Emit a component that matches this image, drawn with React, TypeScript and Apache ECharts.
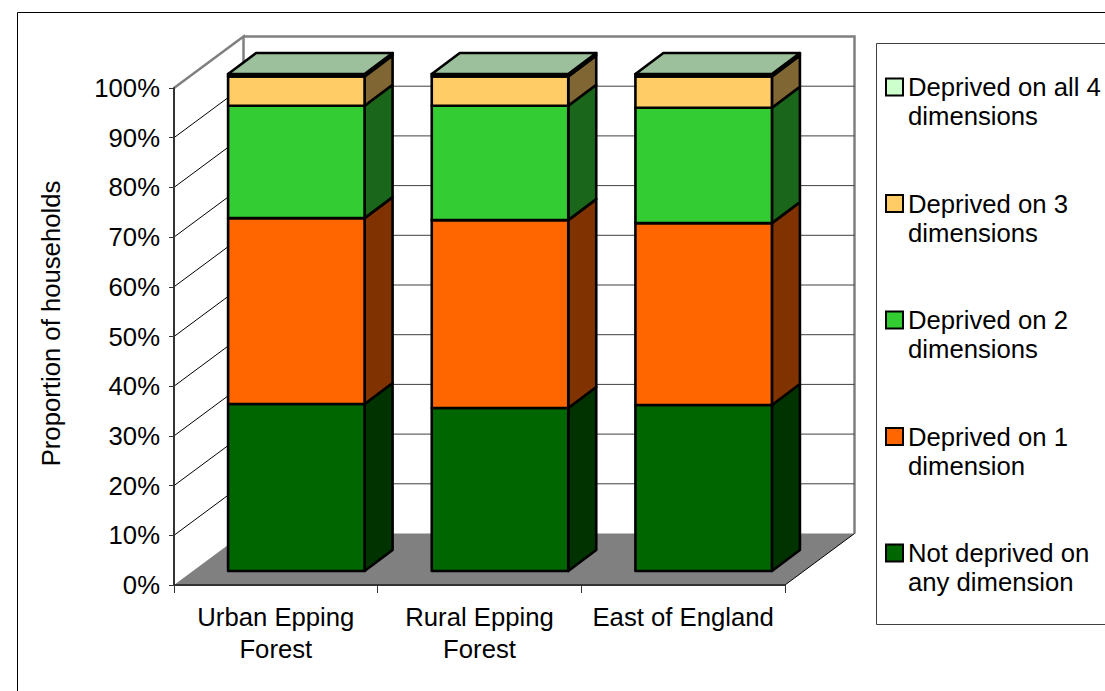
import React, { useEffect, useRef } from "react";
import * as echarts from "echarts";

const categories = ["Urban Epping\nForest", "Rural Epping\nForest", "East of England"];
const notDeprived = [33.6, 32.8, 33.4];
const deprived1 = [37.4, 37.8, 36.6];
const deprived2 = [22.6, 23.0, 23.2];
const deprived3 = [5.9, 5.9, 6.3];
const deprived4 = [0.5, 0.5, 0.5];
const seriesNames = [
  "Not deprived on\nany dimension",
  "Deprived on 1\ndimension",
  "Deprived on 2\ndimensions",
  "Deprived on 3\ndimensions",
  "Deprived on all 4\ndimensions",
];
const seriesValues = [notDeprived, deprived1, deprived2, deprived3, deprived4];
const frontColors = ["#006600", "#FF6600", "#33CC33", "#FFCC66", "#CCFFCC"];
const sideColors = ["#003300", "#803300", "#1A661A", "#806633", "#668066"];
const topColor = "#9CC09C";
const yTicks = [10, 20, 30, 40, 50, 60, 70, 80, 90];

const FONT = "'Liberation Sans', Arial, sans-serif";
const FS = 25.7;
const WALL_DX = 69.5;
const WALL_DY = 51.5;
const BAR_OFF_X = 20.5;
const BAR_OFF_Y = 14;
const BAR_DX = 28;
const BAR_DY = 21;
const BAR_W = 136.5;

function renderSegment(seriesIdx: number) {
  return (_params: any, api: any) => {
    const c = api.value(0);
    const [cx, y0] = api.coord([c, api.value(1)]);
    const [, y1] = api.coord([c, api.value(2)]);
    const l = cx + BAR_OFF_X - BAR_W / 2;
    const r = l + BAR_W;
    const b = y0 - BAR_OFF_Y;
    const t = y1 - BAR_OFF_Y;
    const stroke = { stroke: "#000", lineWidth: 2.6, lineJoin: "round" };
    const children: any[] = [
      {
        type: "polygon",
        shape: { points: [[r, b], [r + BAR_DX, b - BAR_DY], [r + BAR_DX, t - BAR_DY], [r, t]] },
        style: { fill: sideColors[seriesIdx], ...stroke },
      },
      {
        type: "polygon",
        shape: { points: [[l, b], [r, b], [r, t], [l, t]] },
        style: { fill: frontColors[seriesIdx], ...stroke },
      },
    ];
    if (seriesIdx === seriesValues.length - 1) {
      children.push({
        type: "polygon",
        shape: { points: [[l, t], [r, t], [r + BAR_DX, t - BAR_DY], [l + BAR_DX, t - BAR_DY]] },
        style: { fill: topColor, ...stroke },
      });
    }
    return { type: "group", children };
  };
}

function renderWalls(params: any, api: any) {
  const cs = params.coordSys;
  const left = cs.x;
  const right = cs.x + cs.width;
  const top = cs.y;
  const bottom = cs.y + cs.height;
  const v = api.value(1);
  const y = api.coord([0, v])[1];
  const children: any[] = [
    {
      type: "line",
      shape: { x1: left, y1: y, x2: left + WALL_DX, y2: y - WALL_DY },
      style: { stroke: "#000", lineWidth: 1 },
    },
    {
      type: "line",
      shape: { x1: left + WALL_DX, y1: y - WALL_DY, x2: right + WALL_DX, y2: y - WALL_DY },
      style: { stroke: "#404040", lineWidth: 1 },
    },
  ];
  if (params.dataIndex === 0) {
    children.unshift(
      {
        type: "polygon",
        shape: {
          points: [
            [left, bottom],
            [left + WALL_DX, bottom - WALL_DY],
            [right + WALL_DX, bottom - WALL_DY],
            [right, bottom],
          ],
        },
        style: { fill: "#808080" },
      },
      {
        type: "polyline",
        shape: {
          points: [
            [left, top],
            [left + WALL_DX, top - WALL_DY],
            [left + WALL_DX, bottom - WALL_DY],
          ],
        },
        style: { fill: "none", stroke: "#808080", lineWidth: 2.5 },
      },
      {
        type: "polyline",
        shape: {
          points: [
            [left + WALL_DX, top - WALL_DY],
            [right + WALL_DX, top - WALL_DY],
            [right + WALL_DX, bottom - WALL_DY],
          ],
        },
        style: { fill: "none", stroke: "#808080", lineWidth: 2.5 },
      },
      {
        type: "line",
        shape: { x1: right, y1: bottom, x2: right + WALL_DX, y2: bottom - WALL_DY },
        style: { stroke: "#000", lineWidth: 1 },
      }
    );
  }
  return { type: "group", children };
}

export default function App() {
  const ref = useRef<HTMLDivElement>(null);
  useEffect(() => {
    document.body.style.margin = "0";
    const chart = echarts.init(ref.current!, undefined, { renderer: "svg" });
    const barSeries = seriesNames.map((name, si) => ({
      type: "custom",
      name,
      z: 3,
      itemStyle: { color: frontColors[si] },
      encode: { x: 0, y: [1, 2] },
      renderItem: renderSegment(si),
      data: categories.map((_, c) => {
        let start = 0;
        for (let k = 0; k < si; k++) start += seriesValues[k][c];
        return [c, start, start + seriesValues[si][c]];
      }),
    }));
    chart.setOption({
      animation: false,
      backgroundColor: "#fff",
      textStyle: { fontFamily: FONT },
      grid: { left: 174, right: 320, top: 88, bottom: 106 },
      xAxis: {
        type: "category",
        data: categories,
        z: 5,
        axisLine: { lineStyle: { color: "#333", width: 2 } },
        axisTick: { show: true, length: 8, alignWithLabel: false, lineStyle: { color: "#333", width: 1 } },
        axisLabel: { interval: 0, color: "#000", fontSize: FS, fontFamily: FONT, margin: 16, lineHeight: 32 },
        splitLine: { show: false },
      },
      yAxis: {
        type: "value",
        min: 0,
        max: 100,
        interval: 10,
        z: 5,
        name: "Proportion of households",
        nameLocation: "middle",
        nameGap: 110,
        nameRotate: 90,
        nameTextStyle: { color: "#000", fontSize: FS, fontFamily: FONT, padding: [0, 0, 0, 26] },
        axisLine: { show: true, lineStyle: { color: "#333", width: 2 } },
        axisTick: { show: true, length: 5, lineStyle: { color: "#333", width: 1 } },
        axisLabel: { formatter: "{value}%", color: "#000", fontSize: FS, fontFamily: FONT, margin: 14, padding: [2, 0, 0, 0] },
        splitLine: { show: false },
      },
      legend: {
        left: 885,
        top: 43.5,
        padding: 0,
        orient: "vertical",
        selectedMode: false,
        itemWidth: 17,
        itemHeight: 17,
        itemGap: 29.5,
        icon: "rect",
        itemStyle: { borderColor: "#000", borderWidth: 2 },
        formatter: (name: string) => "\n" + name,
        textStyle: { color: "#000", fontSize: FS, fontFamily: FONT, lineHeight: 29 },
        data: [...seriesNames].reverse(),
      },
      graphic: [
        {
          type: "rect",
          z: -10,
          silent: true,
          shape: { x: 17.5, y: 12.5, width: 1200, height: 1000 },
          style: { fill: "#fff", stroke: "#000", lineWidth: 1 },
        },
        {
          type: "rect",
          z: -9,
          silent: true,
          shape: { x: 876.5, y: 43.5, width: 400, height: 581 },
          style: { fill: "#fff", stroke: "#404040", lineWidth: 1 },
        },
      ],
      series: [
        {
          type: "custom",
          name: "walls",
          z: 1,
          silent: true,
          encode: { x: 0, y: 1 },
          renderItem: renderWalls,
          data: yTicks.map((v) => [0, v]),
        },
        ...barSeries,
      ],
    });
    return () => chart.dispose();
  }, []);
  return <div ref={ref} style={{ width: 1105, height: 691 }} />;
}
